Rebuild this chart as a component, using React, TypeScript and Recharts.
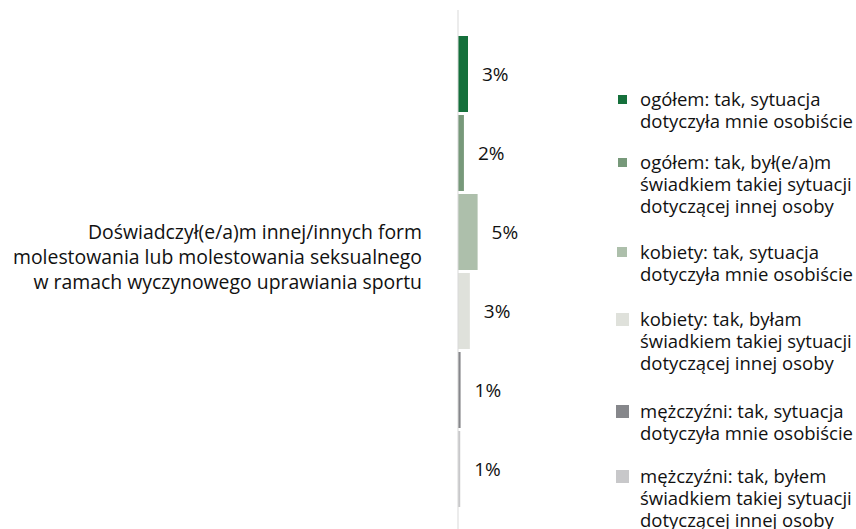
import React from 'react';
import { BarChart, Bar, XAxis, YAxis, LabelList, Legend } from 'recharts';

const categories = ['Doświadczył(e/a)m innej/innych form\nmolestowania lub molestowania seksualnego\nw ramach wyczynowego uprawiania sportu'];

const seriesNames = [
  'ogółem: tak, sytuacja dotyczyła mnie osobiście',
  'ogółem: tak, był(e/a)m świadkiem takiej sytuacji dotyczącej innej osoby',
  'kobiety: tak, sytuacja dotyczyła mnie osobiście',
  'kobiety: tak, byłam świadkiem takiej sytuacji dotyczącej innej osoby',
  'mężczyźni: tak, sytuacja dotyczyła mnie osobiście',
  'mężczyźni: tak, byłem świadkiem takiej sytuacji dotyczącej innej osoby',
];

const legendLines = [
  ['ogółem: tak, sytuacja', 'dotyczyła mnie osobiście'],
  ['ogółem: tak, był(e/a)m', 'świadkiem takiej sytuacji', 'dotyczącej innej osoby'],
  ['kobiety: tak, sytuacja', 'dotyczyła mnie osobiście'],
  ['kobiety: tak, byłam', 'świadkiem takiej sytuacji', 'dotyczącej innej osoby'],
  ['mężczyźni: tak, sytuacja', 'dotyczyła mnie osobiście'],
  ['mężczyźni: tak, byłem', 'świadkiem takiej sytuacji', 'dotyczącej innej osoby'],
];

const ogolemOsobiscie = [2.7];
const ogolemSwiadek = [1.6];
const kobietyOsobiscie = [5.3];
const kobietySwiadek = [3.2];
const mezczyzniOsobiscie = [0.7];
const mezczyzniSwiadek = [0.6];

const seriesValues = [ogolemOsobiscie, ogolemSwiadek, kobietyOsobiscie, kobietySwiadek, mezczyzniOsobiscie, mezczyzniSwiadek];

const colors = ['#15703b', '#77997a', '#adbfab', '#dfe1db', '#86878b', '#c8c8ca'];
const legendSquareSizes = [9, 9, 10, 13, 13, 13];
const legendItemCenters = [99, 162, 252, 319, 411, 476];

const data = categories.map((name, i) => {
  const row: Record<string, any> = { name };
  seriesValues.forEach((vals, s) => {
    row['s' + s] = vals[i];
  });
  return row;
});

const FONT = '"Open Sans", sans-serif';
const TEXT = '#111111';

const CategoryTick = (props: any) => {
  const { x, y, payload } = props;
  const lines = String(payload.value).split('\n');
  return (
    <text x={x - 28} y={y} textAnchor="end" fontFamily={FONT} fontSize={19.4} fill={TEXT}>
      {lines.map((l, i) => (
        <tspan key={i} x={x - 28} dy={i === 0 ? -32.5 : 25}>
          {l}
        </tspan>
      ))}
    </text>
  );
};

const renderLegend = () => (
  <div style={{ position: 'relative', width: 241, height: 529, fontFamily: FONT, fontSize: 18.5, color: TEXT }}>
    {legendLines.map((lines, i) => (
      <div key={i} style={{ position: 'absolute', left: 0, top: legendItemCenters[i] - 11, lineHeight: '22px', whiteSpace: 'nowrap' }}>
        <span
          style={{
            position: 'absolute',
            left: 7 - legendSquareSizes[i] / 2,
            top: 11 - legendSquareSizes[i] / 2,
            width: legendSquareSizes[i],
            height: legendSquareSizes[i],
            background: colors[i],
          }}
        />
        <div style={{ marginLeft: 25 }}>
          {lines.map((l, j) => (
            <div key={j}>{l}</div>
          ))}
        </div>
      </div>
    ))}
  </div>
);

export default function App() {
  return (
    <div style={{ position: 'absolute', left: 0, top: 0, width: 856, height: 529, overflow: 'hidden', background: '#fff' }}>
      <BarChart
        width={856}
        height={535}
        data={data}
        layout="vertical"
        margin={{ top: 10, right: 250, bottom: 2, left: 0 }}
        barSize={76}
        barGap={3}
      >
        <XAxis type="number" hide domain={[0, 40]} />
        <YAxis
          type="category"
          dataKey="name"
          width={458}
          axisLine={{ stroke: '#d9d9d9' }}
          tickLine={false}
          tick={<CategoryTick />}
          interval={0}
        />
        <Legend
          layout="horizontal"
          verticalAlign="middle"
          align="center"
          wrapperStyle={{ left: 615, top: 0, width: 241, height: 529 }}
          content={renderLegend}
        />
        {seriesNames.map((n, s) => (
          <Bar key={s} dataKey={'s' + s} name={n} fill={colors[s]} isAnimationActive={false}>
            <LabelList
              dataKey={'s' + s}
              position="right"
              offset={14}
              formatter={(v: any) => Math.round(Number(v)) + '%'}
              style={{ fontFamily: FONT, fontSize: 19, fill: TEXT }}
            />
          </Bar>
        ))}
      </BarChart>
    </div>
  );
}
